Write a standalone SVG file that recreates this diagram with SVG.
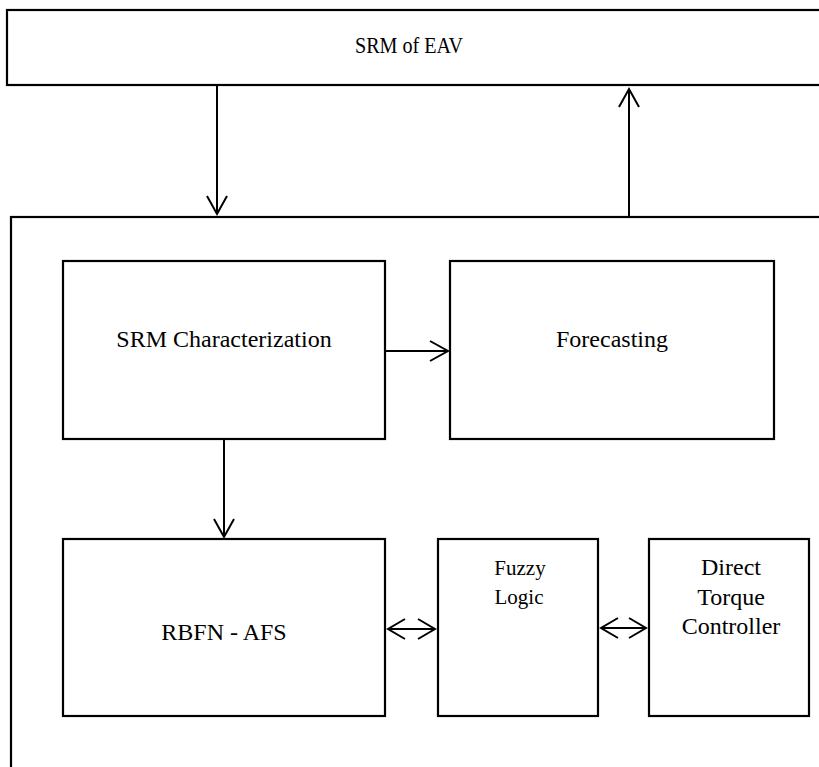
<svg xmlns="http://www.w3.org/2000/svg" width="819" height="767" viewBox="0 0 819 767">
<style>
.box{fill:#fff;stroke:#000;stroke-width:2.2}
.t{font-family:"Liberation Serif","Times New Roman",serif;font-size:24px;fill:#000;text-anchor:middle}
.s{font-size:21px}
.c{fill:none;stroke:#000;stroke-width:2}
</style>
<rect width="819" height="767" fill="#fff"/>
<g id="srm-eav"><rect class="box" x="7" y="10" width="830" height="75"/><text class="t" x="409" y="53" textLength="108" lengthAdjust="spacingAndGlyphs">SRM of EAV</text></g>
<g id="system"><rect class="box" x="11" y="217" width="830" height="570"/></g>
<g id="srm-char"><rect class="box" x="63" y="261" width="322" height="178"/><text class="t" x="224" y="347">SRM Characterization</text></g>
<g id="forecasting"><rect class="box" x="450" y="261" width="324" height="178"/><text class="t" x="612" y="347">Forecasting</text></g>
<g id="rbfn"><rect class="box" x="63" y="539" width="322" height="177"/><text class="t" x="224" y="640">RBFN - AFS</text></g>
<g id="fuzzy"><rect class="box" x="438" y="539" width="160" height="177"/><text class="t s" x="520" y="575">Fuzzy</text><text class="t s" x="519" y="604">Logic</text></g>
<g id="dtc"><rect class="box" x="649" y="539" width="160" height="177"/><text class="t" x="731" y="575">Direct</text><text class="t" x="731" y="605">Torque</text><text class="t" x="731" y="634">Controller</text></g>
<g id="connectors">
<path class="c" d="M217 85V214M207 196L217 214L227 196"/>
<path class="c" d="M629 216V89M619 107L629 89L639 107"/>
<path class="c" d="M385 351H448M430 341L448 351L430 361"/>
<path class="c" d="M224 439V537M214 519L224 537L234 519"/>
<path class="c" d="M388 629H435M405 619L388 629L405 639M418 619L435 629L418 639"/>
<path class="c" d="M601 628H646M618 618L601 628L618 638M629 618L646 628L629 638"/>
</g>
</svg>
